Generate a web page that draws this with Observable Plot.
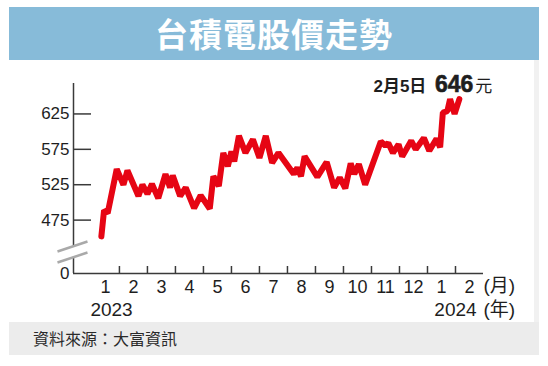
<!DOCTYPE html>
<html>
<head>
<meta charset="utf-8">
<script src="https://cdn.jsdelivr.net/npm/d3@7"></script>
<script src="https://cdn.jsdelivr.net/npm/@observablehq/plot@0.6"></script>
<style>
  html, body { margin: 0; padding: 0; background: #fff; }
  #card { position: absolute; left: 9px; top: 7px; width: 530px; }
  #title { height: 53px; background: #87bbd9; color: #fff; text-align: center;
           font: 700 33px "Noto Sans CJK TC", sans-serif; line-height: 53px; letter-spacing: 1px; }
  #chart { height: 262px; background: #fff; border-right: 5px solid #f1f1f1; width: 525px; }
  #chart svg { display: block; overflow: visible; }
  #footer { height: 33px; background: #ececec; color: #2a2a2a;
            font: 400 16px "Noto Sans CJK TC", sans-serif; line-height: 33px; padding-left: 24px; }
</style>
</head>
<body>
<div id="card">
  <div id="title">台積電股價走勢</div>
  <div id="chart"></div>
  <div id="footer">資料來源：大富資訊</div>
</div>
<script>
// ---- data ----
const dates = [
  "2023-01-12","2023-01-15","2023-01-19","2023-01-29","2023-02-05","2023-02-09","2023-02-20","2023-02-24",
  "2023-03-01","2023-03-06","2023-03-13","2023-03-21","2023-03-26","2023-03-29","2023-04-06","2023-04-12",
  "2023-04-21","2023-04-28","2023-05-08","2023-05-12","2023-05-18","2023-05-23","2023-05-28","2023-06-01",
  "2023-06-04","2023-06-09","2023-06-16","2023-06-24","2023-07-01","2023-07-08","2023-07-15","2023-07-22",
  "2023-08-08","2023-08-12","2023-08-16","2023-08-20","2023-09-03","2023-09-13","2023-09-21","2023-09-27",
  "2023-10-03","2023-10-09","2023-10-13","2023-10-18","2023-10-25","2023-11-11","2023-11-16","2023-11-19",
  "2023-11-24","2023-11-30","2023-12-04","2023-12-14","2023-12-19","2023-12-28","2024-01-03","2024-01-11",
  "2024-01-15","2024-01-18","2024-01-23","2024-01-26","2024-01-31","2024-02-05"
];
const prices = [
  452,489,485,547,525,545,509,525,
  512,526,506,540,521,538,509,521,
  492,510,491,537,523,570,551,572,
  558,594,570,589,563,594,556,570,
  540,549,537,565,536,557,521,535,
  520,555,540,554,525,586,580,584,
  570,582,565,587,575,591,573,590,
  578,627,629,646,625,646
];
const monthLabels = ["1","2","3","4","5","6","7","8","9","10","11","12","1","2"];
const yearLabels = ["2023","2024"];
const yTicks = [0, 475, 525, 575, 625];
const lastLabel = { date: "2月5日", value: "646", unit: "元" };
const monthUnit = "(月)";
const yearUnit = "(年)";

// month position: months since Jan 2023 (fractional by day)
function monthPos(s) {
  const [y, m, d] = s.split("-").map(Number);
  const days = new Date(Date.UTC(y, m, 0)).getUTCDate();
  return (y - 2023) * 12 + (m - 1) + (d - 1) / days;
}
const series = dates.map((d, i) => ({ x: monthPos(d), y: prices[i] }));
const last = series[series.length - 1];

const xStart = -0.64, xEnd = monthLabels.length; // axis extent in months
const W = 525, H = 262;
const mTop = 23, mBottom = 49, mLeft = 64, mRight = 51;
const plotW = W - mLeft - mRight, plotH = H - mTop - mBottom;
const pxPerMonth = plotW / (xEnd - xStart);

const red = "#e60514";
const axisColor = "#3a3a3a";
const ink = "#1e1e1e";

const chart = Plot.plot({
  width: W, height: H,
  marginTop: mTop, marginBottom: mBottom, marginLeft: mLeft, marginRight: mRight,
  style: { fontFamily: "'Liberation Sans', Arial, 'Noto Sans CJK TC', sans-serif", fontSize: "17px", color: ink, background: "transparent" },
  x: { type: "linear", domain: [xStart, xEnd], axis: null },
  y: { type: "linear", domain: [0, 425, 668], range: [H - mBottom, H - mBottom - 18, mTop], axis: null },
  marks: [
    // x axis baseline
    Plot.ruleY([0], { stroke: axisColor, strokeWidth: 1.5 }),
    // y axis line with a break
    Plot.ruleX([xStart], { y1: 0, y2: 385, stroke: axisColor, strokeWidth: 1.5 }),
    Plot.ruleX([xStart], { y1: 438, y2: 668, stroke: axisColor, strokeWidth: 1.5 }),
    // break slashes
    Plot.link([{ a: 430.7, b: 444.8 }, { a: 259.7, b: 429.2 }], {
      x1: xStart - 16 / pxPerMonth, x2: xStart + 14 / pxPerMonth, y1: "a", y2: "b",
      stroke: "#a9a9a9", strokeWidth: 2.5
    }),
    // inward y ticks
    Plot.tickY(yTicks.filter(d => d > 0), { y: d => d, stroke: axisColor, strokeWidth: 1.5, insetRight: plotW - 18 }),
    // inward x ticks at month boundaries
    Plot.tickX(d3.range(1, monthLabels.length), { x: d => d, stroke: axisColor, strokeWidth: 1.5, insetTop: plotH - 7 }),
    // y tick labels
    Plot.text(yTicks, { x: xStart, y: d => d, text: d => String(d), textAnchor: "end", dx: -4, fontSize: 17, fill: ink }),
    // month labels
    Plot.text(monthLabels, { x: (d, i) => i + 0.5, y: 0, text: d => d, dy: 14, fontSize: 18, fill: ink }),
    Plot.text([monthUnit], { x: xEnd, y: 0, text: d => d, textAnchor: "start", dx: 0, dy: 12, fontSize: 19, fill: ink }),
    // year labels
    Plot.text([yearLabels[0]], { x: 0, y: 0, text: d => d, textAnchor: "start", dx: -1, dy: 36, fontSize: 19, fill: ink }),
    Plot.text([yearLabels[1]], { x: 13, y: 0, text: d => d, textAnchor: "middle", dy: 36, fontSize: 19, fill: ink }),
    Plot.text([yearUnit], { x: xEnd, y: 0, text: d => d, textAnchor: "start", dx: 0, dy: 36, fontSize: 19, fill: ink }),
    // price line
    Plot.line(series, { x: "x", y: "y", stroke: red, strokeWidth: 6, strokeLinejoin: "miter" }),
    // last value annotation
    Plot.text([last], { x: "x", y: "y", text: () => lastLabel.value, textAnchor: "end", lineAnchor: "bottom",
      dx: 14, dy: -7, fontSize: 23, fontWeight: "bold", fill: ink, stroke: ink, strokeWidth: 0.6 }),
    Plot.text([last], { x: "x", y: "y", text: () => lastLabel.date, textAnchor: "end", lineAnchor: "bottom",
      dx: -33, dy: -7, fontSize: 17, fontWeight: "bold", fill: ink }),
    Plot.text([last], { x: "x", y: "y", text: () => lastLabel.unit, textAnchor: "start", lineAnchor: "bottom",
      dx: 16, dy: -7, fontSize: 17, fill: ink })
  ]
});
document.getElementById("chart").appendChild(chart);
</script>
</body>
</html>
